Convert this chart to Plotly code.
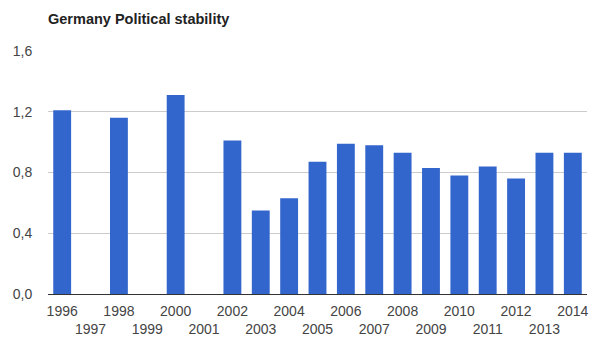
import plotly.graph_objects as go

# Political stability index for Germany, by year (no data for 1997, 1999, 2001)
years = list(range(1996, 2015))
stability = [1.21, None, 1.16, None, 1.31, None, 1.01, 0.55, 0.63, 0.87,
             0.99, 0.98, 0.93, 0.83, 0.78, 0.84, 0.76, 0.93, 0.93]

# Year labels alternate between two rows so they do not overlap
tick_text = [str(y) if i % 2 == 0 else "<br>" + str(y) for i, y in enumerate(years)]

fig = go.Figure(
    go.Bar(
        x=years,
        y=stability,
        marker=dict(color="#3366cc", line=dict(width=0)),
    )
)

fig.update_layout(
    width=600,
    height=337,
    margin=dict(l=48, r=13, t=51, b=43),
    paper_bgcolor="white",
    plot_bgcolor="white",
    separators=",.",
    bargap=0.37,
    showlegend=False,
    font=dict(family="Liberation Sans, Arial, sans-serif", color="#444444", size=13),
    title=dict(
        text="<b>Germany Political stability</b>",
        x=48 / 600,
        xanchor="left",
        y=1 - 19 / 337,
        yanchor="middle",
        font=dict(size=14.5, color="#222222"),
    ),
)

fig.update_xaxes(
    range=[1995.5, 2014.5],
    tickmode="array",
    tickvals=years,
    ticktext=tick_text,
    tickangle=0,
    automargin=False,
    ticks="outside",
    ticklen=4,
    tickcolor="rgba(0,0,0,0)",
    showgrid=False,
    showline=True,
    linecolor="#333333",
    linewidth=1,
    tickfont=dict(size=14, color="#444444"),
)

fig.update_yaxes(
    range=[0, 1.6],
    dtick=0.4,
    tick0=0,
    tickformat=".1f",
    ticks="outside",
    ticklen=12,
    tickcolor="rgba(0,0,0,0)",
    showgrid=True,
    gridcolor="#cccccc",
    gridwidth=1,
    zeroline=False,
    showline=False,
    tickfont=dict(size=14, color="#444444"),
)

fig.write_html("out.html")
